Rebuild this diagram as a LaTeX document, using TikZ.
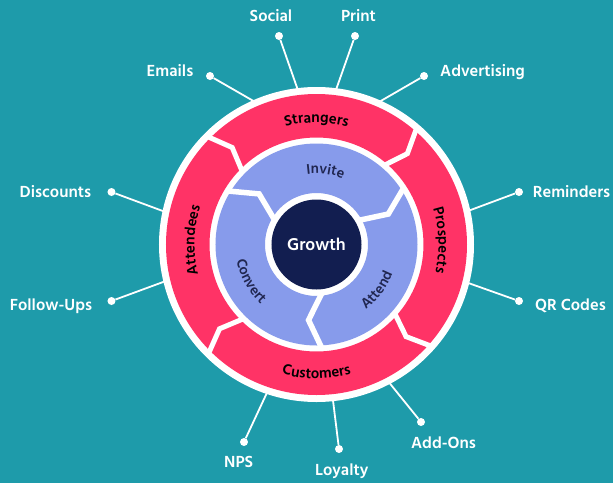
\documentclass[tikz,border=0pt]{standalone}
\usepackage{fontspec}
\setmainfont{Hind Siliguri}[BoldFont={Hind Siliguri SemiBold}]
\usetikzlibrary{decorations.text}

\definecolor{tealbg}{RGB}{30,155,170}
\definecolor{stagepink}{RGB}{255,51,102}
\definecolor{steplav}{RGB}{135,155,235}
\definecolor{corenavy}{RGB}{18,30,80}
\definecolor{textnavy}{RGB}{32,38,80}

\tikzset{
  spoke/.style={white, line width=1.8pt},
  spokedot/.style={circle, fill=white, inner sep=0pt, minimum size=8pt},
  spokelabel/.style={white, anchor=base, inner sep=0pt, font=\bfseries\fontsize{16.5}{18}\selectfont},
  splitline/.style={white, line width=5pt, line join=miter},
  ringlabel/.style={decorate, decoration={text along path, text align=center, text color=black, text={|\bfseries\fontsize{15}{16}\selectfont|#1}}},
  steplabel/.style={decorate, decoration={text along path, text align=center, text color=textnavy, text={|\bfseries\fontsize{14.5}{16}\selectfont|#1}}},
}

\begin{document}
\begin{tikzpicture}[x=1pt, y=1pt]
  \path[use as bounding box, fill=tealbg] (-316.5,-238.5) rectangle (296.5,244.5);

  % spokes: dots, labels and the points where they meet the ring
  \node[spokedot] (social) at (-37.5,208.5) {};
  \node[spokedot] (print) at (38.5,208.5) {};
  \node[spokedot] (emails) at (-106.5,168.5) {};
  \node[spokedot] (advert) at (107.5,168.5) {};
  \node[spokedot] (discounts) at (-205,52.5) {};
  \node[spokedot] (reminders) at (202.5,52.5) {};
  \node[spokedot] (followups) at (-205,-56.5) {};
  \node[spokedot] (qrcodes) at (202.5,-56.5) {};
  \node[spokedot] (nps) at (-72.5,-197.5) {};
  \node[spokedot] (loyalty) at (22.5,-204.5) {};
  \node[spokedot] (addons) at (104.5,-177.5) {};

  \node[spokelabel] (social-lbl) at (-45.5,223) {Social};
  \node[spokelabel] (print-lbl) at (42,223) {Print};
  \node[spokelabel] (emails-lbl) at (-146.5,168) {Emails};
  \node[spokelabel] (advert-lbl) at (166,168.5) {Advertising};
  \node[spokelabel] (discounts-lbl) at (-261,47.5) {Discounts};
  \node[spokelabel] (reminders-lbl) at (255,47.5) {Reminders};
  \node[spokelabel] (followups-lbl) at (-265.5,-65.5) {Follow-Ups};
  \node[spokelabel] (qrcodes-lbl) at (254,-65.5) {QR Codes};
  \node[spokelabel] (nps-lbl) at (-77.8,-222.5) {NPS};
  \node[spokelabel] (loyalty-lbl) at (25.2,-231.2) {Loyalty};
  \node[spokelabel] (addons-lbl) at (127,-204) {Add-Ons};

  \coordinate (social-in) at (96.4:150pt);
  \coordinate (print-in) at (83.3:150pt);
  \coordinate (emails-in) at (111.8:150pt);
  \coordinate (advert-in) at (67.9:150pt);
  \coordinate (discounts-in) at (168.1:150pt);
  \coordinate (reminders-in) at (12.2:150pt);
  \coordinate (followups-in) at (193.4:150pt);
  \coordinate (qrcodes-in) at (-14:150pt);
  \coordinate (nps-in) at (251.8:150pt);
  \coordinate (loyalty-in) at (-84:150pt);
  \coordinate (addons-in) at (-62.7:150pt);

  \draw[spoke] (social-in) -- (social);
  \draw[spoke] (print-in) -- (print);
  \draw[spoke] (emails-in) -- (emails);
  \draw[spoke] (advert-in) -- (advert);
  \draw[spoke] (discounts-in) -- (discounts);
  \draw[spoke] (reminders-in) -- (reminders);
  \draw[spoke] (followups-in) -- (followups);
  \draw[spoke] (qrcodes-in) -- (qrcodes);
  \draw[spoke] (nps-in) -- (nps);
  \draw[spoke] (loyalty-in) -- (loyalty);
  \draw[spoke] (addons-in) -- (addons);

  % outer ring of stages
  \fill[white] (0,0) circle[radius=157.5pt];
  \fill[stagepink, even odd rule] (0,0) circle[radius=150.5pt] (0,0) circle[radius=107pt];
  \draw[splitline] (135.5:155pt) -- (131:128.5pt) -- (135.5:104pt);
  \draw[splitline] (49.5:155pt) -- (45:128.5pt) -- (49.5:104pt);
  \draw[splitline] (-41.3:155pt) -- (-45.8:128.5pt) -- (-41.3:104pt);
  \draw[splitline] (225.5:155pt) -- (221:128.5pt) -- (225.5:104pt);

  % inner ring of steps
  \fill[steplav, even odd rule] (0,0) circle[radius=101pt] (0,0) circle[radius=51.5pt];
  \draw[splitline, line width=5.5pt] (149:104pt) -- (138.6:76.5pt) -- (150:48pt);
  \draw[splitline, line width=5.5pt] (33:104pt) -- (23:78pt) -- (30:48pt);
  \draw[splitline, line width=5.5pt] (-87:104pt) -- (-96:76pt) -- (-83:48pt);

  \node[circle, fill=corenavy, minimum size=90pt, inner sep=0pt, text=white,
        font=\bfseries\fontsize{17.5}{18}\selectfont] (growth) at (0,0) {Growth};

  % curved labels
  \path[ringlabel=Strangers] (125:122pt) arc[start angle=125, end angle=55, radius=122pt];
  \path[ringlabel=Prospects] (37:122pt) arc[start angle=37, end angle=-33, radius=122pt];
  \path[ringlabel=Attendees] (213:122pt) arc[start angle=213, end angle=143, radius=122pt];
  \path[ringlabel=Customers] (-125:134pt) arc[start angle=-125, end angle=-55, radius=134pt];

  \path[steplabel=Invite] (123:71pt) arc[start angle=123, end angle=43, radius=71pt];
  \path[steplabel=Attend] (-77:81.5pt) arc[start angle=-77, end angle=3, radius=81.5pt];
  \path[steplabel=Convert] (169:81.5pt) arc[start angle=169, end angle=249, radius=81.5pt];
\end{tikzpicture}
\end{document}
